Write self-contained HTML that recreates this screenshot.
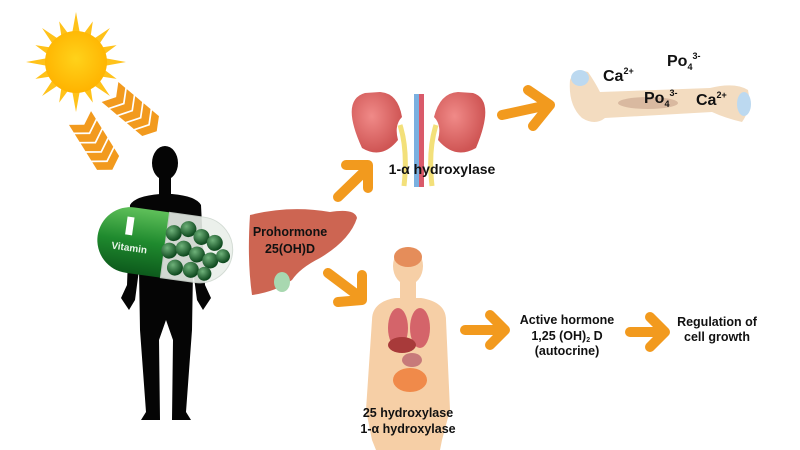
<!DOCTYPE html>
<html><head><meta charset="utf-8"><style>
html,body{margin:0;padding:0;background:#fff;width:800px;height:450px;overflow:hidden}
svg{display:block}
text{font-family:"Liberation Sans",sans-serif;font-weight:bold;fill:#111}
</style></head><body>
<svg width="800" height="450" viewBox="0 0 800 450" xmlns="http://www.w3.org/2000/svg">
<defs>
<radialGradient id="sun" cx="50%" cy="45%" r="55%"><stop offset="0" stop-color="#ffd21a"/><stop offset="1" stop-color="#ffb300"/></radialGradient>
<linearGradient id="grn" x1="0" y1="0" x2="0" y2="1"><stop offset="0" stop-color="#5fc05a"/><stop offset="0.5" stop-color="#1f8a2e"/><stop offset="1" stop-color="#0d5a1c"/></linearGradient>
<radialGradient id="ball" cx="35%" cy="35%" r="65%"><stop offset="0" stop-color="#6fb27a"/><stop offset="1" stop-color="#0f4a1f"/></radialGradient>
<radialGradient id="kid" cx="40%" cy="40%" r="60%"><stop offset="0" stop-color="#f08a88"/><stop offset="1" stop-color="#cf5554"/></radialGradient>
<g id="chev"><path d="M0,0 L9,0 L17,13 L9,26 L0,26 L8,13 Z" fill="#f29a1e"/></g>
</defs>

<!-- sun -->
<g transform="translate(76,62)">
<g fill="#ffc21a">
<polygon points="0,-50 4,-28 -4,-28"/><polygon points="0,50 4,28 -4,28"/><polygon points="-50,0 -28,4 -28,-4"/><polygon points="50,0 28,4 28,-4"/>
<g transform="rotate(22.5)"><polygon points="0,-44 4,-28 -4,-28"/><polygon points="0,44 4,28 -4,28"/><polygon points="-44,0 -28,4 -28,-4"/><polygon points="44,0 28,4 28,-4"/></g>
<g transform="rotate(45)"><polygon points="0,-48 4,-28 -4,-28"/><polygon points="0,48 4,28 -4,28"/><polygon points="-48,0 -28,4 -28,-4"/><polygon points="48,0 28,4 28,-4"/></g>
<g transform="rotate(67.5)"><polygon points="0,-44 4,-28 -4,-28"/><polygon points="0,44 4,28 -4,28"/><polygon points="-44,0 -28,4 -28,-4"/><polygon points="44,0 28,4 28,-4"/></g>
</g>
<circle r="31" fill="url(#sun)"/>
</g>
<!-- chevron beams -->
<g transform="translate(80,118) rotate(58)">
<use href="#chev" x="0" y="-13"/><use href="#chev" x="11" y="-13"/><use href="#chev" x="22" y="-13"/><use href="#chev" x="33" y="-13"/><use href="#chev" x="44" y="-13"/>
</g>
<g transform="translate(110,92) rotate(40)">
<use href="#chev" x="0" y="-13"/><use href="#chev" x="11" y="-13"/><use href="#chev" x="22" y="-13"/><use href="#chev" x="33" y="-13"/><use href="#chev" x="44" y="-13"/>
</g>

<!-- human silhouette -->
<g fill="#050505">
<ellipse cx="165" cy="163" rx="13" ry="17"/>
<rect x="159" y="176" width="12" height="24"/>
<path d="M130,205 Q135,196 160,194 L172,194 Q196,196 201,205 L205,285 L211,298 L203,310 L197,300 L193,270 L192,330 L186,412 L191,420 L172,420 L173,340 L166,320 L159,340 L160,420 L141,420 L146,412 L140,330 L139,270 L135,300 L129,310 L121,298 L127,285 Z"/>
</g>

<!-- pill -->
<g transform="rotate(8 165 245)">
<path d="M165,212 L130,212 A33,33 0 0 0 130,278 L165,278 Z" fill="url(#grn)"/>
<path d="M165,212 L200,212 A33,33 0 0 1 200,278 L165,278 Z" fill="#e9efe9" stroke="#cfd8d0" opacity="0.9"/>
<g fill="url(#ball)">
<circle cx="172" cy="232" r="8"/><circle cx="186" cy="226" r="8"/><circle cx="200" cy="232" r="8"/><circle cx="214" cy="236" r="8"/>
<circle cx="170" cy="250" r="8"/><circle cx="184" cy="246" r="8"/><circle cx="198" cy="250" r="8"/><circle cx="212" cy="254" r="8"/><circle cx="224" cy="248" r="7"/>
<circle cx="178" cy="266" r="8"/><circle cx="194" cy="266" r="8"/><circle cx="208" cy="268" r="7"/>
</g>
<rect x="124" y="222" width="7" height="18" fill="#fff"/>
<text x="112" y="256" font-size="10" style="fill:#e8f5e8">Vitamin</text>
</g>

<!-- liver -->
<path d="M250,215 Q290,205 330,212 Q355,208 357,218 Q350,240 320,258 Q300,268 292,280 Q275,292 252,295 Q247,260 250,215 Z" fill="#cd6552"/>
<ellipse cx="282" cy="282" rx="8" ry="10" fill="#a8d8b0"/>
<text x="290" y="236" font-size="12.5" text-anchor="middle">Prohormone</text>
<text x="290" y="253" font-size="12.5" text-anchor="middle">25(OH)D</text>

<!-- orange arrows -->
<g fill="none" stroke="#f29a1e" stroke-width="10" stroke-linecap="round" stroke-linejoin="round">
<path d="M338,197 L368,168"/><path d="M346,165 L368,165 L368,188"/>
<path d="M328,273 L360,297"/><path d="M362,275 L362,300 L338,302"/>
<path d="M502,115 L548,105"/><path d="M528,90 L550,105 L533,126"/>
<path d="M465,330 L503,330"/><path d="M490,315 L505,330 L490,345"/>
<path d="M630,332 L663,332"/><path d="M650,317 L665,332 L650,347"/>
</g>

<!-- kidneys -->
<rect x="414" y="94" width="5" height="93" fill="#7ab0e0"/>
<rect x="419" y="94" width="5" height="93" fill="#d95a6a"/>
<path d="M400,125 Q408,150 404,186" stroke="#f3e07a" stroke-width="5" fill="none"/>
<path d="M436,125 Q428,150 432,186" stroke="#f3e07a" stroke-width="5" fill="none"/>
<path d="M365,93 Q340,100 362,148 Q382,160 398,140 Q394,125 402,117 Q398,93 380,92 Z" fill="url(#kid)"/>
<path d="M473,93 Q496,100 476,148 Q455,160 438,140 Q442,125 434,117 Q440,93 458,92 Z" fill="url(#kid)"/>
<text x="442" y="174" font-size="14" text-anchor="middle">1-α hydroxylase</text>

<!-- bone -->
<path d="M570,80 Q575,68 588,72 Q595,82 600,92 L710,88 Q735,82 748,90 Q752,108 742,122 Q725,118 712,112 L605,118 Q595,126 582,118 Q568,105 570,80 Z" fill="#f3dcc0"/>
<ellipse cx="648" cy="103" rx="30" ry="6" fill="#d9b9a0"/>
<ellipse cx="580" cy="78" rx="9" ry="8" fill="#bcd9f0"/>
<ellipse cx="744" cy="104" rx="7" ry="12" fill="#bcd9f0"/>
<text x="603" y="81" font-size="16">Ca<tspan font-size="9" dy="-7">2+</tspan></text>
<text x="667" y="66" font-size="16">Po<tspan font-size="9" dy="4">4</tspan><tspan font-size="9" dy="-11">3-</tspan></text>
<text x="644" y="103" font-size="16">Po<tspan font-size="9" dy="4">4</tspan><tspan font-size="9" dy="-11">3-</tspan></text>
<text x="696" y="105" font-size="16">Ca<tspan font-size="9" dy="-7">2+</tspan></text>

<!-- body with organs -->
<g fill="#f6cfa6">
<ellipse cx="408" cy="266" rx="15" ry="19"/>
<rect x="400" y="280" width="16" height="20"/>
<path d="M372,320 Q372,302 395,298 L421,298 Q446,302 446,320 L450,410 L442,440 L440,450 L376,450 L372,440 L366,410 Z"/>
</g>
<ellipse cx="408" cy="257" rx="14" ry="10" fill="#e58d5a"/>
<ellipse cx="398" cy="328" rx="10" ry="20" fill="#d4646a"/>
<ellipse cx="420" cy="328" rx="10" ry="20" fill="#d4646a"/>
<ellipse cx="402" cy="345" rx="14" ry="8" fill="#a83a3a"/>
<ellipse cx="410" cy="380" rx="17" ry="12" fill="#f08a4a"/>
<ellipse cx="412" cy="360" rx="10" ry="7" fill="#c77a7a"/>
<text x="408" y="417" font-size="12.5" text-anchor="middle">25 hydroxylase</text>
<text x="408" y="433" font-size="12.5" text-anchor="middle">1-α hydroxylase</text>

<text x="567" y="324" font-size="12.5" text-anchor="middle">Active hormone</text>
<text x="567" y="340" font-size="12.5" text-anchor="middle">1,25 (OH)<tspan font-size="7" dy="2">2</tspan><tspan dy="-2"> D</tspan></text>
<text x="567" y="355" font-size="12.5" text-anchor="middle">(autocrine)</text>
<text x="717" y="326" font-size="12.5" text-anchor="middle">Regulation of</text>
<text x="717" y="341" font-size="12.5" text-anchor="middle">cell growth</text>
</svg>
</body></html>
